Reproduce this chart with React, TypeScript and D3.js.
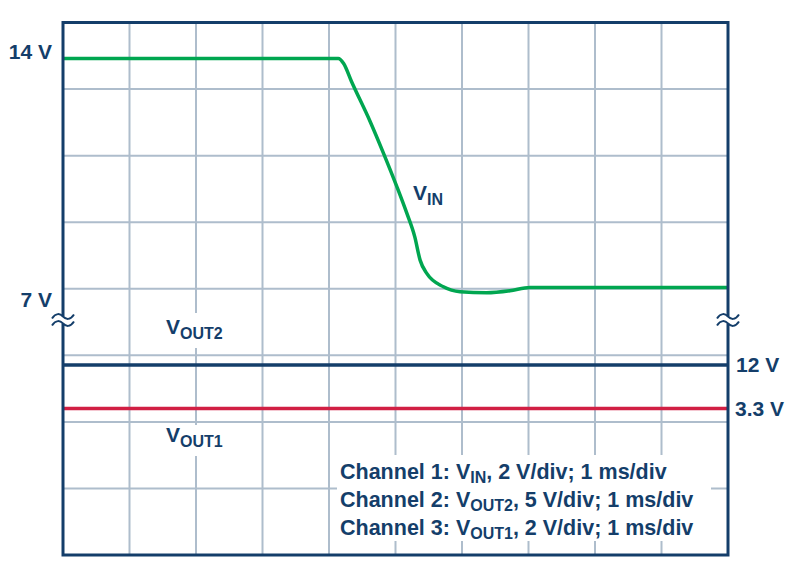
import React from "react";
import * as d3 from "d3";

// ---- data ----
const vinTime = [0, 4.14, 4.22, 4.34, 4.62, 4.82, 5.02, 5.17, 5.29, 5.37, 5.47, 5.72, 5.97, 6.37, 6.72, 7.02, 10];
const vinVolts = [14, 14, 13.85, 13.3, 12.1, 11.15, 10.15, 9.35, 8.64, 7.94, 7.54, 7.14, 6.99, 6.96, 7.02, 7.12, 7.12];
const vout2Level = 12; // V, channel 2
const vout1Level = 3.3; // V, channel 3
const timeDomain = [0, 10]; // ms, 1 ms/div
const divCount = 8;
const leftTicks = ["14 V", "7 V"];
const leftTickValues = [14, 7];
const rightTicks = ["12 V", "3.3 V"];
const legendNames = ["Channel 1: V", "Channel 2: V", "Channel 3: V"];
const legendSubs = ["IN", "OUT2", "OUT1"];
const legendRest = [", 2 V/div; 1 ms/div", ", 5 V/div; 1 ms/div", ", 2 V/div; 1 ms/div"];

// channel settings: volts per division and zero offset (in divisions from bottom)
const ch1 = { vPerDiv: 2, zero: 0.46 };
const ch2 = { vPerDiv: 5, zero: 0.455 };
const ch3 = { vPerDiv: 2, zero: 0.55 };

const W = 800;
const H = 579;
const X0 = 63, X1 = 728, Y0 = 22.5, Y1 = 555;

const NAVY = "#143e6a";
const GREEN = "#00a650";
const RED = "#d11f43";
const GRID = "#aebdcc";
const FONT = "'Liberation Sans', Arial, Helvetica, sans-serif";

export default function App() {
  const x = d3.scaleLinear().domain(timeDomain).range([X0, X1]);
  const yDiv = d3.scaleLinear().domain([0, divCount]).range([Y1, Y0]);
  const yCh = (c: { vPerDiv: number; zero: number }) => (v: number) => yDiv(c.zero + v / c.vPerDiv);
  const y1 = yCh(ch1);
  const y2 = yCh(ch2);
  const y3 = yCh(ch3);

  const pts = vinTime.map((t, i) => [t, vinVolts[i]] as [number, number]);
  const line = d3
    .line<[number, number]>()
    .x((d) => x(d[0]))
    .y((d) => y1(d[1]))
    .curve(d3.curveMonotoneX);

  const vTicks = d3.range(timeDomain[0] + 1, timeDomain[1]);
  const hTicks = d3.range(1, divCount);

  const tilde = "M-11,2 C-7,-4 -3,-3 0,0 S7,4 11,-2";
  const breakY = 320;

  const labelStyle: React.CSSProperties = { fontFamily: FONT, fontWeight: 700, fill: NAVY };

  const sub = (main: string, s: string, xx: number, yy: number, size = 21) => (
    <text x={xx} y={yy} style={{ ...labelStyle, fontSize: size }}>
      {main}
      <tspan dy={5} style={{ fontSize: 16 }}>{s}</tspan>
    </text>
  );

  return (
    <svg width={W} height={H} style={{ position: "absolute", left: 0, top: 0, background: "#fff" }}>
      {/* grid */}
      {vTicks.map((t) => (
        <line key={"v" + t} x1={x(t)} x2={x(t)} y1={Y0} y2={Y1} stroke={GRID} strokeWidth={2} />
      ))}
      {hTicks.map((d) => (
        <line key={"h" + d} x1={X0} x2={X1} y1={yDiv(d)} y2={yDiv(d)} stroke={GRID} strokeWidth={2} />
      ))}
      {/* white backgrounds behind labels */}
      <rect x={163} y={313} width={66} height={35} fill="#fff" />
      <rect x={163} y={425} width={66} height={31} fill="#fff" />
      <rect x={337} y={455} width={374} height={86} fill="#fff" />

      {/* signals */}
      <path d={line(pts) || ""} fill="none" stroke={GREEN} strokeWidth={3.5} strokeLinejoin="round" />
      <line x1={X0} x2={X1} y1={y2(vout2Level)} y2={y2(vout2Level)} stroke={NAVY} strokeWidth={3.5} />
      <line x1={X0} x2={X1} y1={y3(vout1Level)} y2={y3(vout1Level)} stroke={RED} strokeWidth={3.5} />

      {/* frame */}
      <rect x={X0} y={Y0} width={X1 - X0} height={Y1 - Y0} fill="none" stroke={NAVY} strokeWidth={3} />

      {/* break markers */}
      {[X0, X1].map((bx) => (
        <g key={"b" + bx} transform={`translate(${bx},${breakY})`}>
          <rect x={-3} y={-4} width={6} height={8} fill="#fff" />
          <path d={tilde} transform="translate(0,-3.5)" fill="none" stroke={NAVY} strokeWidth={2} />
          <path d={tilde} transform="translate(0,3.5)" fill="none" stroke={NAVY} strokeWidth={2} />
        </g>
      ))}

      {/* left tick labels */}
      {leftTicks.map((t, i) => (
        <text
          key={t}
          x={52}
          y={leftTickValues[i] === 14 ? y1(leftTickValues[i]) + 0.5 : y1(leftTickValues[i]) + 16}
          textAnchor="end"
          style={{ ...labelStyle, fontSize: 21 }}
        >
          {t}
        </text>
      ))}
      {/* right tick labels */}
      <text x={736} y={y2(vout2Level) + 7.5} style={{ ...labelStyle, fontSize: 21 }}>{rightTicks[0]}</text>
      <text x={735} y={y3(vout1Level) + 7.5} style={{ ...labelStyle, fontSize: 21 }}>{rightTicks[1]}</text>

      {/* signal labels */}
      {sub("V", "IN", 413, 200)}
      {sub("V", "OUT2", 166, 334)}
      {sub("V", "OUT1", 166, 442)}

      {/* legend */}
      {legendNames.map((n, i) => (
        <text key={n} x={340} y={478.5 + i * 28.3} style={{ ...labelStyle, fontSize: 21.5 }}>
          {n}
          <tspan dy={4} style={{ fontSize: 16 }}>{legendSubs[i]}</tspan>
          <tspan dy={-4}>{legendRest[i]}</tspan>
        </text>
      ))}
    </svg>
  );
}
